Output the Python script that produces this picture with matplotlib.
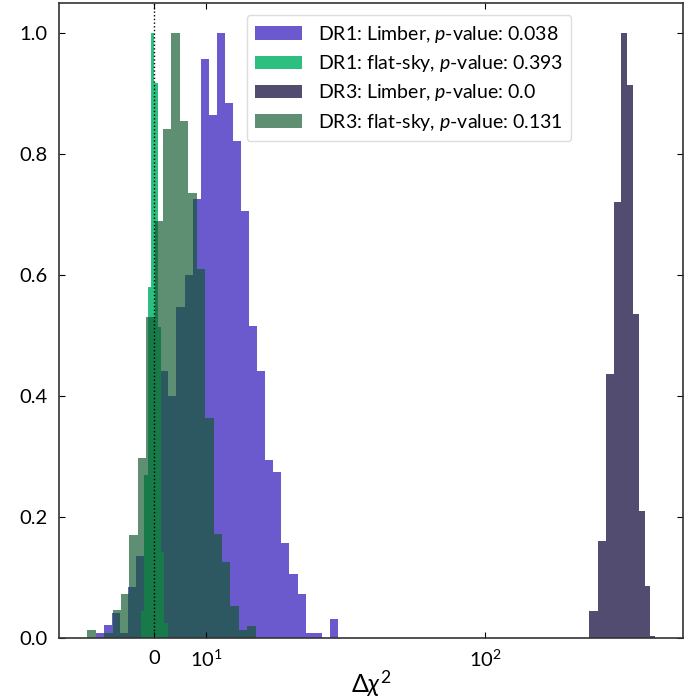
import numpy as np
import matplotlib
matplotlib.use("Agg")
import matplotlib.pyplot as plt

plt.rcParams["font.family"] = ["Lato", "DejaVu Sans"]
plt.rcParams["mathtext.fontset"] = "custom"
plt.rcParams["mathtext.rm"] = "Lato"
plt.rcParams["mathtext.it"] = "Lato:italic"
plt.rcParams["mathtext.bf"] = "Lato:bold"

# normalised histograms of delta chi^2 (peak scaled to 1)
dr1_limber_range = (-11.25, 35.26)
dr1_limber = [0.009, 0.021, 0.042, 0.008, 0.085, 0.136, 0.20, 0.30, 0.442, 0.40,
              0.548, 0.60, 0.726, 0.958, 0.864, 1.0, 0.885, 0.821, 0.706, 0.516,
              0.442, 0.294, 0.274, 0.157, 0.105, 0.073, 0.009, 0.009, 0.0, 0.031]

dr1_flat_range = (-2.55, 2.57)
dr1_flat = [0.045, 0.27, 0.58, 1.0, 0.917, 0.515, 0.143, 0.025]

dr3_limber_range = (277.5, 528.5)
dr3_limber = [0.045, 0.160, 0.436, 0.721, 1.0, 0.914, 0.535, 0.210, 0.086, 0.004]

dr3_flat_range = (-12.86, 19.46)
dr3_flat = [0.013, 0.0, 0.008, 0.046, 0.072, 0.171, 0.298, 0.53, 0.689, 0.842,
            1.0, 0.855, 0.736, 0.61, 0.364, 0.172, 0.126, 0.053, 0.013, 0.02]

labels = [r"DR1: Limber, $p$-value: 0.038",
          r"DR1: flat-sky, $p$-value: 0.393",
          r"DR3: Limber, $p$-value: 0.0",
          r"DR3: flat-sky, $p$-value: 0.131"]
colors = ["#6a5acd", "#2cbf80", "#524c70", "#10582e"]
alphas = [1.0, 1.0, 1.0, 0.67]

fig = plt.figure(figsize=(6.97, 6.99), dpi=100)
ax = fig.add_axes([0.0846, 0.0873, 0.8954, 0.9084])

series = [(dr1_limber_range, dr1_limber), (dr1_flat_range, dr1_flat),
          (dr3_limber_range, dr3_limber), (dr3_flat_range, dr3_flat)]
for (rng, h), c, a, lab in zip(series, colors, alphas, labels):
    edges = np.linspace(rng[0], rng[1], len(h) + 1)
    ax.stairs(h, edges, fill=True, color=c, alpha=a, label=lab, lw=0)

ax.axvline(0, color="k", ls=":", lw=1.0)

ax.set_xscale("symlog", linthresh=50, linscale=1)
ax.set_xlim(-18.3, 698)
ax.set_ylim(0, 1.05)
ax.xaxis.set_minor_locator(matplotlib.ticker.NullLocator())
ax.set_xlabel(r"$\Delta\chi^2$", fontsize=18, labelpad=-1)
ax.tick_params(direction="in", top=True, right=True, labelsize=14.5, length=4,
               pad=8)
for s in ax.spines.values():
    s.set_linewidth(1.2)
    s.set_color("#333333")

ax.legend(loc="upper left", bbox_to_anchor=(0.285, 0.996), fontsize=14,
          handlelength=2.4, handletextpad=0.8, labelspacing=0.42,
          framealpha=1, edgecolor="#dddddd", borderpad=0.45)

fig.savefig("out.png", dpi=100)
